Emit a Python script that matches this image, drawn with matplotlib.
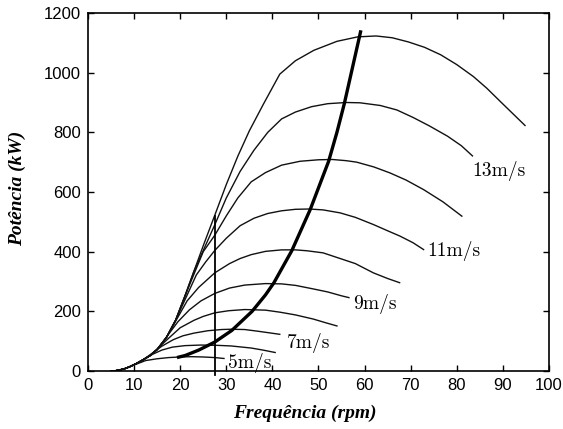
import matplotlib
matplotlib.use("Agg")
import matplotlib.pyplot as plt

# --- data ---
# shared low-speed envelope (all curves run together here)
env_rpm = [5, 6, 7, 8, 9, 10.5, 12, 13.5, 15, 17, 19, 21, 23, 25, 27.5]
env_kw = [0, 1, 4, 8, 14, 25, 38, 52, 72, 112, 170, 250, 335, 420, 522]

speeds = [5, 6, 7, 8, 9, 10, 11, 12, 13, 14]
# index in the envelope where each curve leaves it
branch_at = [5, 6, 7, 8, 9, 10, 11, 12, 13, 14]

tail_rpm_5 = [12.5, 15, 17.5, 20, 22.5, 25, 27.5, 29.5]
tail_kw_5 = [35, 41, 45, 47, 48, 47, 45, 42]
tail_rpm_6 = [14, 16, 18.3, 21, 24.5, 28, 31, 35.4, 38, 40.6]
tail_kw_6 = [56, 70, 80, 85, 87, 86, 84, 77, 70, 62]
tail_rpm_7 = [16, 18.5, 20.6, 23, 26, 29, 31, 34, 37, 41.6]
tail_kw_7 = [83, 105, 118, 127, 135, 139, 140, 139, 133, 123]
tail_rpm_8 = [17.5, 20, 23, 25, 27.5, 30.5, 34, 38.5, 41.7, 45, 48.9, 51.5, 54]
tail_kw_8 = [110, 145, 170, 183, 195, 202, 206, 204, 197, 188, 174, 162, 151]
tail_rpm_9 = [19.5, 22, 24.5, 27.5, 30.7, 34, 38.5, 42, 45, 48.9, 52, 55, 56.6]
tail_kw_9 = [165, 205, 235, 260, 278, 288, 293, 292, 287, 275, 265, 252, 246]
tail_rpm_10 = [21.5, 24, 27.5, 30.7, 33, 35.4, 38.5, 42, 45, 47.5, 51, 54.7, 58,
               61.9, 65, 67.6]
tail_kw_10 = [235, 280, 329, 360, 377, 390, 401, 406, 406, 403, 396, 377, 360,
              329, 310, 296]
tail_rpm_11 = [23.5, 25.5, 27.5, 30, 33, 36, 39, 42, 45, 48, 51, 54.7, 58,
               61.9, 65, 67.7, 70.5, 72.8]
tail_kw_11 = [322, 365, 404, 445, 487, 512, 528, 537, 542, 543, 540, 530, 515,
              491, 470, 452, 430, 407]
tail_rpm_12 = [25, 27.5, 30, 32.5, 35.4, 38.5, 42, 46, 50, 53, 56, 58.3, 62,
               65.5, 69, 72.8, 77, 81.1]
tail_kw_12 = [400, 455, 520, 580, 634, 665, 690, 703, 708, 709, 705, 700, 684,
              664, 640, 608, 567, 519]
tail_rpm_13 = [27.5, 30, 33, 36, 39, 42, 45, 48.5, 52, 56, 59, 63.4, 67, 70.5,
               74, 78, 81, 83.4]
tail_kw_13 = [490, 580, 669, 740, 800, 845, 868, 886, 896, 900, 899, 890, 875,
              850, 822, 787, 755, 721]
tail_rpm_14 = [30, 32.5, 35, 38, 41.6, 45, 49, 54, 58.5, 62.5, 66, 69.5, 73,
               76.5, 80, 83.6, 86.5, 89.4, 92, 94.8]
tail_kw_14 = [625, 720, 805, 893, 995, 1040, 1075, 1105, 1120, 1123, 1117, 1103,
              1085, 1060, 1027, 987, 948, 904, 865, 823]

tails = [
    (tail_rpm_5, tail_kw_5), (tail_rpm_6, tail_kw_6), (tail_rpm_7, tail_kw_7),
    (tail_rpm_8, tail_kw_8), (tail_rpm_9, tail_kw_9), (tail_rpm_10, tail_kw_10),
    (tail_rpm_11, tail_kw_11), (tail_rpm_12, tail_kw_12),
    (tail_rpm_13, tail_kw_13), (tail_rpm_14, tail_kw_14),
]

# optimal power curve (thick)
opt_rpm = [19.3, 21.1, 24, 27.5, 31.2, 35.6, 38.5, 40.3, 44.2, 48.2, 52.2, 54,
           55.6, 57.3, 59.2]
opt_kw = [45, 52, 70, 97, 136, 200, 255, 295, 403, 541, 703, 800, 896, 1012, 1142]

# fixed-speed line
fixed_rpm = 27.5
fixed_kw_top = 520

# labels
label_text = ["5m/s", "7m/s", "9m/s", "11m/s", "13m/s"]
label_x = [30.3, 43.2, 57.6, 73.7, 83.4]
label_y = [27, 93, 226, 402, 671]

x_ticks = list(range(0, 101, 10))
y_ticks = list(range(0, 1201, 200))

# --- plot ---
fig = plt.figure(figsize=(5.63, 4.29), dpi=100)
ax = fig.add_axes([0.1563, 0.1352, 0.8188, 0.8345])

for i, (tr, tk) in enumerate(tails):
    b = branch_at[i]
    xs = env_rpm[:b] + tr if i < len(tails) - 1 else env_rpm + tr
    ys = env_kw[:b] + tk if i < len(tails) - 1 else env_kw + tk
    ax.plot(xs, ys, color="#111111", lw=1.0)

ax.plot(opt_rpm, opt_kw, color="black", lw=2.4, solid_capstyle="butt")
ax.plot([fixed_rpm, fixed_rpm], [-12, fixed_kw_top], color="black", lw=1.3,
        clip_on=False)

for t, x, y in zip(label_text, label_x, label_y):
    ax.text(x, y, t, family="cmr10", fontsize=14, va="center", ha="left")

ax.set_xlim(0, 100)
ax.set_ylim(0, 1200)
ax.set_xticks(x_ticks)
ax.set_yticks(y_ticks)
ax.tick_params(direction="in", top=True, right=True, length=4, width=1,
               labelsize=12, pad=5)
for lab in ax.get_xticklabels() + ax.get_yticklabels():
    lab.set_family("Liberation Sans")
for s in ax.spines.values():
    s.set_linewidth(1.2)

ax.set_xlabel("Frequência (rpm)", family="Liberation Serif", style="italic",
              weight="bold", fontsize=14)
ax.set_ylabel("Potência (kW)", family="Liberation Serif", style="italic",
              weight="bold", fontsize=14)
ax.xaxis.set_label_coords(0.47, -0.095)
ax.yaxis.set_label_coords(-0.135, 0.51)

fig.savefig("out.png", dpi=100)
